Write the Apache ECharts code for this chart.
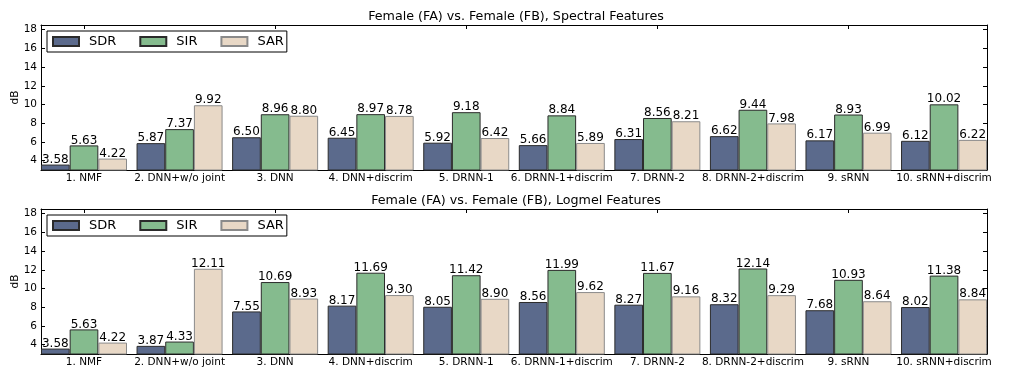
<!DOCTYPE html>
<html>
<head>
<meta charset="utf-8">
<script src="https://cdn.jsdelivr.net/npm/echarts@6/dist/echarts.min.js"></script>
<style>
  html, body { margin: 0; padding: 0; background: #fff; }
  #chart { width: 1010px; height: 379px; }
</style>
</head>
<body>
<div id="chart"></div>
<script>
var methods = ["1. NMF", "2. DNN+w/o joint", "3. DNN", "4. DNN+discrim", "5. DRNN-1",
               "6. DRNN-1+discrim", "7. DRNN-2", "8. DRNN-2+discrim", "9. sRNN", "10. sRNN+discrim"];
var metricNames = ["SDR", "SIR", "SAR"];
var yTicks = [4, 6, 8, 10, 12, 14, 16, 18];

var spectralTitle = "Female (FA) vs. Female (FB), Spectral Features";
var spectralSDR = [3.58, 5.87, 6.50, 6.45, 5.92, 5.66, 6.31, 6.62, 6.17, 6.12];
var spectralSIR = [5.63, 7.37, 8.96, 8.97, 9.18, 8.84, 8.56, 9.44, 8.93, 10.02];
var spectralSAR = [4.22, 9.92, 8.80, 8.78, 6.42, 5.89, 8.21, 7.98, 6.99, 6.22];

var logmelTitle = "Female (FA) vs. Female (FB), Logmel Features";
var logmelSDR = [3.58, 3.87, 7.55, 8.17, 8.05, 8.56, 8.27, 8.32, 7.68, 8.02];
var logmelSIR = [5.63, 4.33, 10.69, 11.69, 11.42, 11.99, 11.67, 12.14, 10.93, 11.38];
var logmelSAR = [4.22, 12.11, 8.93, 9.30, 8.90, 9.62, 9.16, 9.29, 8.64, 8.84];

var colors = ["#5b6a8c", "#85bb8e", "#e8d8c6"];
var edges = ["#2b2b2b", "#2b2b2b", "#8a8a8a"];
var font = "DejaVu Sans";

// plot frame in px
var frameLeft = 41, frameWidth = 946, plotHeight = 145;
var barW = 28.67;
var band = 95.56;
var pad = (band - 3 * barW) / 2;

var option = {
    animation: false,
    backgroundColor: "#fff",
    title: [],
    legend: [],
    grid: [],
    xAxis: [],
    yAxis: [],
    series: []
};

function addPanel(p, top, title, sdr, sir, sar) {
    var frameGrid = p * 2, barGrid = p * 2 + 1;
    option.title.push({
        text: title, left: 516, top: top - 14.5, textAlign: "center", padding: 0,
        textStyle: { fontFamily: font, fontSize: 12.7, fontWeight: "normal", color: "#000" }
    });
    // frame with y ticks
    option.grid.push({ left: frameLeft, width: frameWidth, top: top, height: plotHeight,
        containLabel: false, outerBoundsMode: "none" });
    // bars, wider so groups sit flush with the frame
    option.grid.push({ left: frameLeft - pad, width: band * 10, top: top, height: plotHeight,
        containLabel: false, outerBoundsMode: "none" });

    var yBase = { type: "value", min: 3, max: 18.5, splitLine: { show: false } };
    option.yAxis.push(Object.assign({}, yBase, {
        gridIndex: frameGrid, position: "left",
        name: "dB", nameLocation: "middle", nameGap: 20, nameRotate: 90, nameMoveOverlap: false,
        nameTextStyle: { fontFamily: font, fontSize: 10.5, color: "#000" },
        axisLine: { show: true, onZero: false, lineStyle: { color: "#000", width: 1 } },
        axisTick: { show: true, inside: true, length: 4, customValues: yTicks, lineStyle: { color: "#000" } },
        axisLabel: { show: true, customValues: yTicks, margin: 4, fontFamily: font, fontSize: 10.5, color: "#000" }
    }));
    option.yAxis.push(Object.assign({}, yBase, {
        gridIndex: frameGrid, position: "right",
        axisLine: { show: true, onZero: false, lineStyle: { color: "#000", width: 1 } },
        axisTick: { show: true, inside: true, length: 4, customValues: yTicks, lineStyle: { color: "#000" } },
        axisLabel: { show: false }
    }));
    option.yAxis.push(Object.assign({}, yBase, {
        gridIndex: barGrid, show: false
    }));
    var yBarIndex = p * 3 + 2;

    // frame top/bottom lines
    option.xAxis.push({ gridIndex: frameGrid, type: "value", min: 0, max: 1, position: "bottom",
        axisLine: { show: true, onZero: false, lineStyle: { color: "#000" } },
        axisTick: { show: false }, axisLabel: { show: false }, splitLine: { show: false } });
    option.xAxis.push({ gridIndex: frameGrid, type: "value", min: 0, max: 1, position: "top",
        axisLine: { show: true, onZero: false, lineStyle: { color: "#000" } },
        axisTick: { show: false }, axisLabel: { show: false }, splitLine: { show: false } });
    // category axes with ticks at group centres
    option.xAxis.push({ gridIndex: barGrid, type: "category", data: methods, position: "bottom",
        axisLine: { show: false, onZero: false },
        axisTick: { show: true, inside: true, length: 4, alignWithLabel: true, lineStyle: { color: "#000" } },
        axisLabel: { interval: 0, margin: 3, fontFamily: font, fontSize: 10.5, color: "#000" } });
    option.xAxis.push({ gridIndex: barGrid, type: "category", data: methods, position: "top",
        axisLine: { show: false, onZero: false },
        axisTick: { show: true, inside: true, length: 4, alignWithLabel: true, lineStyle: { color: "#000" } },
        axisLabel: { show: false } });
    var xBarIndex = p * 4 + 2;

    [sdr, sir, sar].forEach(function (vals, k) {
        option.series.push({
            name: metricNames[k], type: "bar", xAxisIndex: xBarIndex, yAxisIndex: yBarIndex,
            data: vals, barWidth: barW, barGap: "0%",
            itemStyle: { color: colors[k], borderColor: edges[k], borderWidth: 1 },
            label: { show: true, position: "top", distance: -1, fontFamily: font, fontSize: 12, color: "#000",
                formatter: function (d) { return d.value.toFixed(2); } }
        });
    });

    option.legend.push({
        data: metricNames, left: 47, top: top + 6, orient: "horizontal",
        icon: "rect", itemWidth: 26, itemHeight: 9, itemGap: 23,
        padding: [4, 3, 4, 5],
        backgroundColor: "#fff", borderColor: "#000", borderWidth: 1,
        textStyle: { fontFamily: font, fontSize: 13, color: "#000", padding: [0, 0, 0, 5] }
    });
}

addPanel(0, 25, spectralTitle, spectralSDR, spectralSIR, spectralSAR);
addPanel(1, 209, logmelTitle, logmelSDR, logmelSIR, logmelSAR);

var chart = echarts.init(document.getElementById("chart"));
chart.setOption(option);
</script>
</body>
</html>
